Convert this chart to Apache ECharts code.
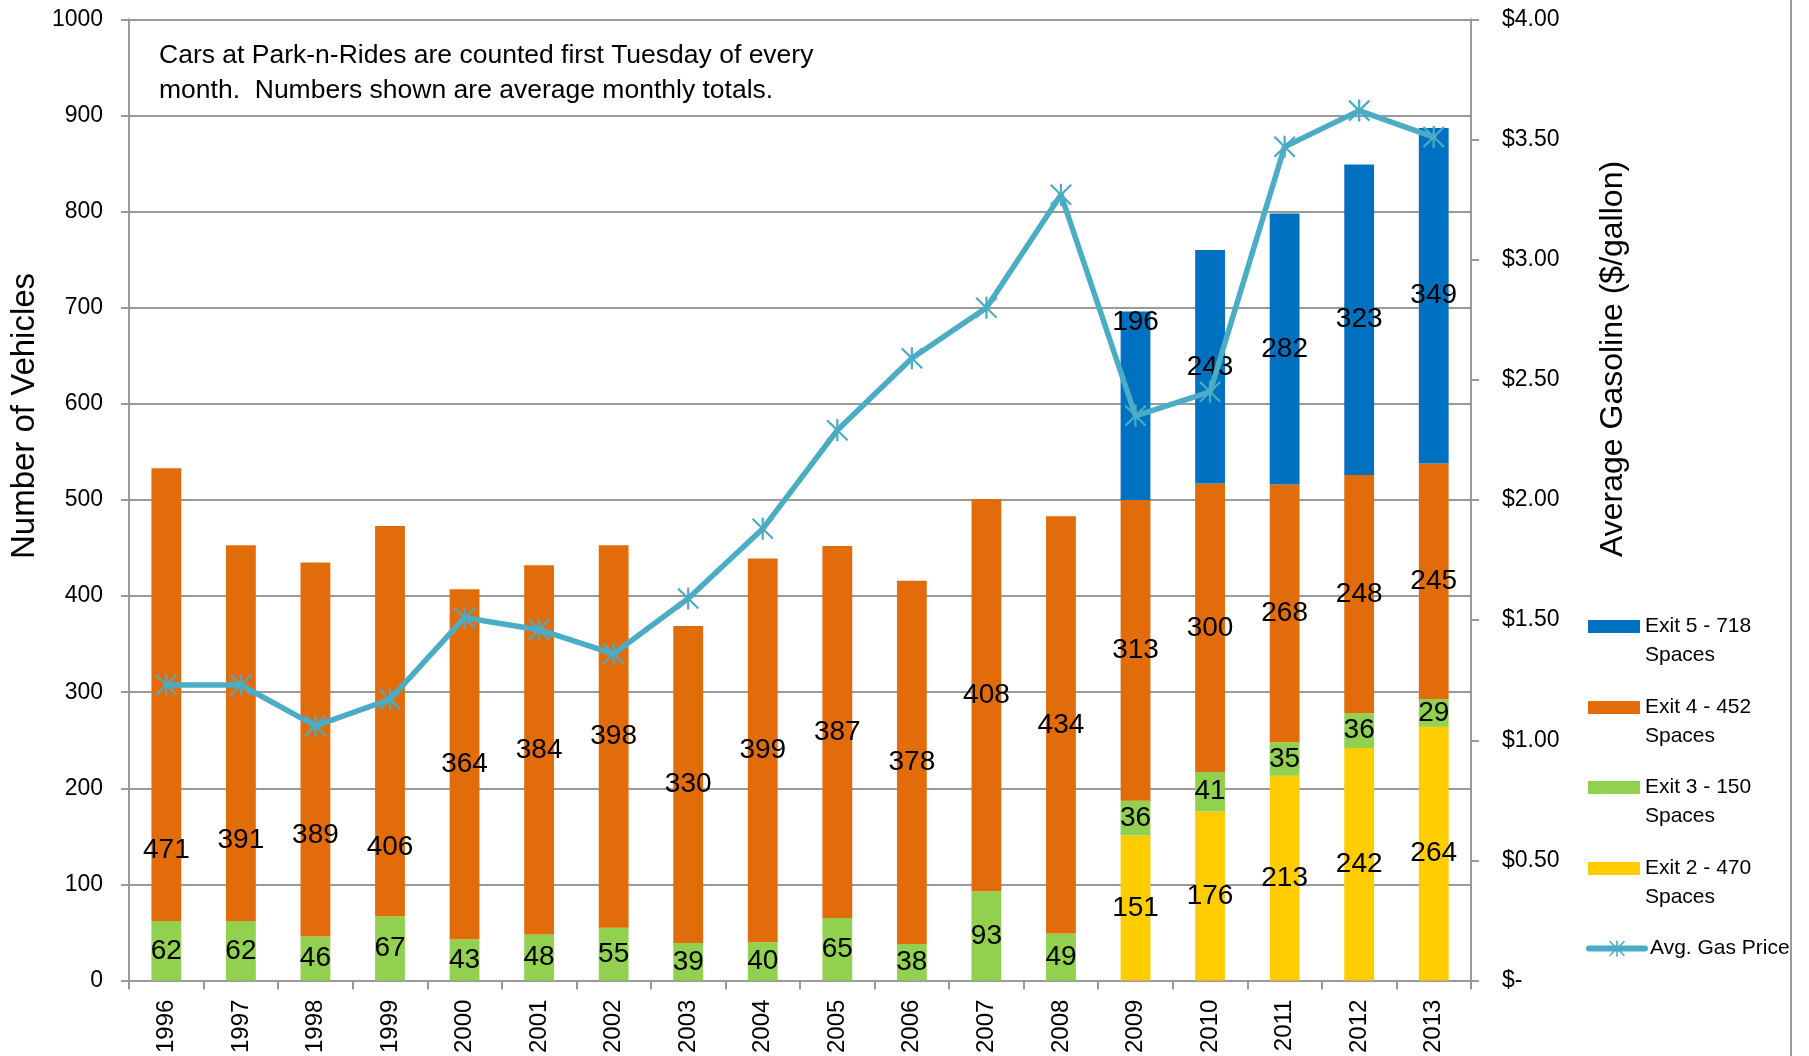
<!DOCTYPE html>
<html>
<head>
<meta charset="utf-8">
<script src="https://cdn.jsdelivr.net/npm/echarts@6/dist/echarts.min.js"></script>
<style>
html,body{margin:0;padding:0;background:#fff;}
#chart{width:1809px;height:1056px;}
</style>
</head>
<body>
<div id="chart"></div>
<script>
// ---- data ----
const years = ['1996','1997','1998','1999','2000','2001','2002','2003','2004','2005','2006','2007','2008','2009','2010','2011','2012','2013'];
const exit2 = [null,null,null,null,null,null,null,null,null,null,null,null,null,151,176,213,242,264];
const exit3 = [62,62,46,67,43,48,55,39,40,65,38,93,49,36,41,35,36,29];
const exit4 = [471,391,389,406,364,384,398,330,399,387,378,408,434,313,300,268,248,245];
const exit5 = [null,null,null,null,null,null,null,null,null,null,null,null,null,196,243,282,323,349];
const gasPrice = [1.23,1.23,1.06,1.17,1.51,1.46,1.36,1.59,1.88,2.29,2.59,2.80,3.27,2.35,2.45,3.47,3.62,3.51];
const seriesNames = ['Exit 5 - 718 Spaces','Exit 4 - 452 Spaces','Exit 3 - 150 Spaces','Exit 2 - 470 Spaces','Avg. Gas Price'];
const noteText = 'Cars at Park-n-Rides are counted first Tuesday of every\nmonth.  Numbers shown are average monthly totals.';

// ---- styles ----
const SANS = "'Liberation Sans',Arial,sans-serif";
const GRID_COLOR = '#9a9a9a';
const colors = {e5:'#0070C0', e4:'#E36C0A', e3:'#92D050', e2:'#FFCC00', gas:'#4BACC6'};
// manual label nudges (pixels, like Excel's moved labels)
const labelNudge = {
  e4: {0:156, 1:107, 2:86, 3:126},
  e5: {13:-83}
};
const asterisk = 'path://M9,0 L11,0 L11,20 L9,20 Z M1.6,0.2 L19.8,18.4 L18.4,19.8 L0.2,1.6 Z M18.4,0.2 L19.8,1.6 L1.6,19.8 L0.2,18.4 Z';

function barData(arr, key){
  return arr.map((v,i)=>{
    const n = labelNudge[key] && labelNudge[key][i];
    if (v == null || n == null) return v;
    return {value:v, label:{offset:[0,n]}};
  });
}
const barLabel = {show:true, position:'inside', color:'#000', fontFamily:SANS, fontSize:28};

function barSeries(name, arr, key){
  return {
    name, type:'bar', stack:'cars', barWidth:'40%',
    data: barData(arr, key),
    itemStyle:{color:colors[key]},
    label: barLabel,
    emphasis:{disabled:true}
  };
}

const legendTop = [583, 664, 744, 825];
const legends = seriesNames.slice(0,4).map((n,i)=>({
  data:[{name:n, icon:'rect'}],
  left:1588, top:legendTop[i], padding:0,
  itemWidth:52, itemHeight:13,
  formatter: s => '\n' + s.replace(' Spaces','\nSpaces'),
  textStyle:{fontFamily:SANS, fontSize:21, color:'#000', lineHeight:29},
  selectedMode:false
}));
legends.push({
  data:[seriesNames[4]],
  left:1586, top:934, padding:0,
  itemWidth:56, itemHeight:20,
  lineStyle:{width:6, cap:'round'},
  textStyle:{fontFamily:SANS, fontSize:21, color:'#000', lineHeight:29},
  selectedMode:false
});

const option = {
  animation:false,
  backgroundColor:'#fff',
  title:{
    text: noteText, left:159, top:38, padding:0,
    textStyle:{fontFamily:SANS, fontSize:26.5, fontWeight:'normal', color:'#000', lineHeight:35}
  },
  legend: legends,
  grid:{left:129, right:338, top:19.3, bottom:75.3, containLabel:false},
  xAxis:[{
    type:'category', data:years, position:'bottom', boundaryGap:true,
    axisLine:{show:true, lineStyle:{color:GRID_COLOR, width:2}},
    axisTick:{show:true, interval:0, length:9, lineStyle:{color:GRID_COLOR, width:2}},
    axisLabel:{interval:0, rotate:90, margin:19, fontFamily:SANS, fontSize:24, color:'#000'},
    splitLine:{show:false}
  },{
    type:'category', data:years, position:'bottom', boundaryGap:true, gridIndex:0,
    axisLine:{show:false},
    axisTick:{show:true, interval:0, inside:true, alignWithLabel:true, length:6, lineStyle:{color:GRID_COLOR, width:2}},
    axisLabel:{show:false},
    splitLine:{show:false}
  }],
  yAxis:[{
    type:'value', min:0, max:1000, interval:100, position:'left',
    name:'Number of Vehicles', nameLocation:'middle', nameRotate:90, nameGap:86,
    nameTextStyle:{fontFamily:SANS, fontSize:33, color:'#000', padding:[0,0,0,168]},
    axisLine:{show:true, lineStyle:{color:GRID_COLOR, width:2}},
    axisTick:{show:true, length:8, lineStyle:{color:GRID_COLOR, width:2}},
    axisLabel:{margin:26, fontFamily:SANS, fontSize:23, color:'#000', formatter: v => String(v)},
    splitLine:{show:true, lineStyle:{color:GRID_COLOR, width:2}}
  },{
    type:'value', min:0, max:4, interval:0.5, position:'right',
    name:'Average Gasoline ($/gallon)', nameLocation:'middle', nameRotate:90, nameGap:126,
    nameTextStyle:{fontFamily:SANS, fontSize:32, color:'#000', padding:[0,0,0,282]},
    axisLine:{show:true, lineStyle:{color:GRID_COLOR, width:2}},
    axisTick:{show:true, length:8, lineStyle:{color:GRID_COLOR, width:2}},
    axisLabel:{margin:31, fontFamily:SANS, fontSize:23, color:'#000',
      formatter: v => v === 0 ? '$-' : '$' + v.toFixed(2)},
    splitLine:{show:false}
  }],
  series:[
    barSeries(seriesNames[3], exit2, 'e2'),
    barSeries(seriesNames[2], exit3, 'e3'),
    barSeries(seriesNames[1], exit4, 'e4'),
    barSeries(seriesNames[0], exit5, 'e5'),
    {
      name:seriesNames[4], type:'line', yAxisIndex:1, data:gasPrice,
      symbol:asterisk, symbolSize:22, showSymbol:true,
      lineStyle:{color:colors.gas, width:5.5, cap:'round', join:'round'},
      itemStyle:{color:colors.gas},
      z:5, emphasis:{disabled:true}
    }
  ],
  graphic:[{
    type:'line', shape:{x1:1791, y1:0, x2:1791, y2:1056},
    style:{stroke:'#9a9a9a', lineWidth:2}, silent:true
  }]
};

const chart = echarts.init(document.getElementById('chart'), null, {renderer:'canvas'});
chart.setOption(option);
</script>
</body>
</html>
